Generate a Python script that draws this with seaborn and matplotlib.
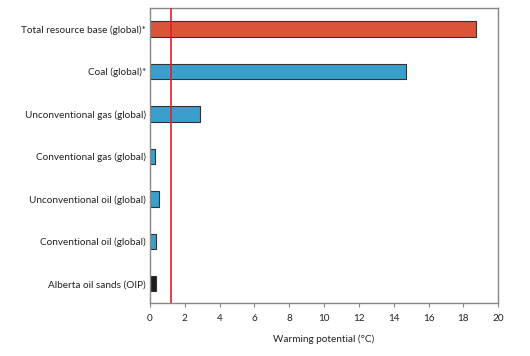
import matplotlib
matplotlib.use("Agg")
import matplotlib.pyplot as plt
import seaborn as sns
import pandas as pd

categories = [
    "Total resource base (global)*",
    "Coal (global)*",
    "Unconventional gas (global)",
    "Conventional gas (global)",
    "Unconventional oil (global)",
    "Conventional oil (global)",
    "Alberta oil sands (OIP)",
]
warming = [18.7, 14.7, 2.85, 0.3, 0.5, 0.32, 0.33]
groups = ["total", "global", "global", "global", "global", "global", "alberta"]
threshold = 1.2

palette = {"total": "#DA5438", "global": "#3A9FCC", "alberta": "#1C1C1C"}

sns.set_theme(style="white")
plt.rcParams["font.family"] = ["Lato", "DejaVu Sans"]

df = pd.DataFrame({"category": categories, "warming": warming, "group": groups})

fig = plt.figure(figsize=(5.3, 3.56), dpi=100)
ax = fig.add_axes([0.283, 0.149, 0.657, 0.829])

sns.barplot(data=df, x="warming", y="category", hue="group", palette=palette,
            dodge=False, width=0.36, edgecolor="#333333", linewidth=0.8,
            saturation=1, legend=False, ax=ax)

ax.axvline(threshold, color="#E0202A", linewidth=1.2, zorder=5)

ax.set_xlim(0, 20)
ax.set_ylim(6.45, -0.5)
ax.set_xticks(range(0, 21, 2))
ax.set_xlabel("Warming potential (°C)", fontsize=7.2, color="#222222", labelpad=8)
ax.set_ylabel("")
ax.tick_params(axis="x", labelsize=7.2, colors="#222222", length=3, width=0.8,
               direction="out", bottom=True, pad=5)
ax.tick_params(axis="x", color="#888888")
ax.tick_params(axis="y", labelsize=7.2, colors="#222222", length=0, pad=3)
for s in ax.spines.values():
    s.set_color("#888888")
    s.set_linewidth(1.0)

fig.savefig("out.png", dpi=100)
